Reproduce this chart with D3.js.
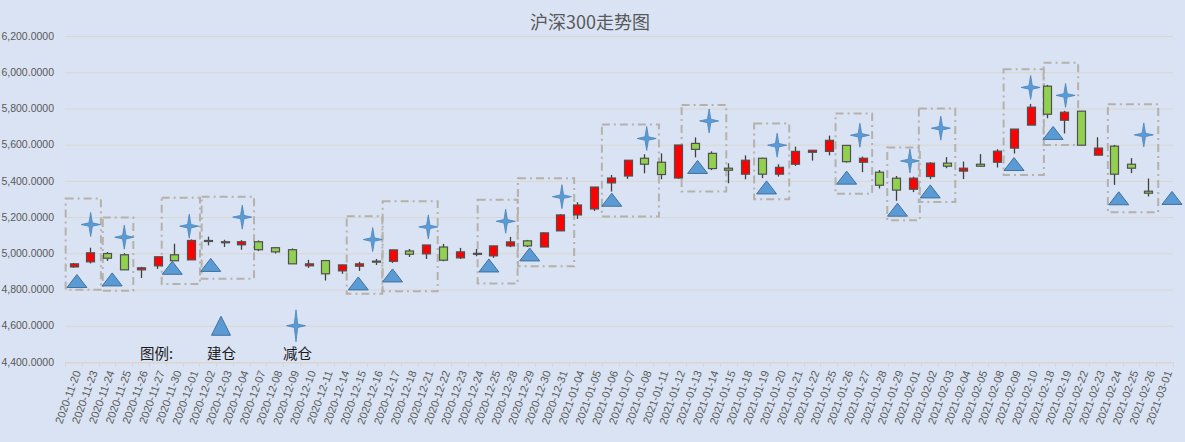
<!DOCTYPE html>
<html>
<head>
<meta charset="utf-8">
<script src="https://cdn.jsdelivr.net/npm/d3@7"></script>
<style>
  body { margin: 0; background: #dae3f3; }
  svg { display: block; }
</style>
</head>
<body>
<div class="chart"></div>
<script>

var dates = ["2020-11-20","2020-11-23","2020-11-24","2020-11-25","2020-11-26","2020-11-27","2020-11-30",
  "2020-12-01","2020-12-02","2020-12-03","2020-12-04","2020-12-07","2020-12-08","2020-12-09","2020-12-10",
  "2020-12-11","2020-12-14","2020-12-15","2020-12-16","2020-12-17","2020-12-18","2020-12-21","2020-12-22",
  "2020-12-23","2020-12-24","2020-12-25","2020-12-28","2020-12-29","2020-12-30","2020-12-31",
  "2021-01-04","2021-01-05","2021-01-06","2021-01-07","2021-01-08","2021-01-11","2021-01-12","2021-01-13",
  "2021-01-14","2021-01-15","2021-01-18","2021-01-19","2021-01-20","2021-01-21","2021-01-22","2021-01-25",
  "2021-01-26","2021-01-27","2021-01-28","2021-01-29","2021-02-01","2021-02-02","2021-02-03","2021-02-04",
  "2021-02-05","2021-02-08","2021-02-09","2021-02-10","2021-02-18","2021-02-19","2021-02-22","2021-02-23",
  "2021-02-24","2021-02-25","2021-02-26","2021-03-01"];

var open  = [4925,4953,4999,4992,4909,4931,4992,4964,5071,5064,5047,5064,5031,5020,4931,4960,4903,4929,4955,4956,
  5013,4997,5035,4975,5000,4986,5041,5069,5035,5124,5212,5245,5389,5427,5525,5503,5416,5607,5552,5470,
  5437,5525,5437,5492,5558,5563,5596,5503,5448,5415,5354,5424,5498,5454,5492,5503,5581,5708,5923,5735,
  5785,5542,5592,5492,5343,null];
var high  = [4947,5031,5007,5001,4925,4981,5053,5077,5092,5075,5073,5071,5033,5027,4964,4962,4938,4953,4969,5019,
  5024,5046,5052,5030,5024,5041,5091,5074,5115,5216,5282,5366,5433,5514,5547,5552,5598,5640,5563,5497,
  5541,5528,5492,5589,5571,5650,5598,5534,5460,5427,5423,5503,5531,5507,5548,5575,5686,5825,5930,5787,
  5785,5641,5599,5526,5413,null];
var low   = [4920,4944,4958,4909,4864,4914,4959,4964,5044,5035,5020,5012,4999,4942,4920,4850,4887,4903,4936,4947,
  4980,4969,4956,4969,4984,4975,5034,5035,5035,5124,5190,5234,5341,5411,5442,5409,5411,5530,5459,5387,
  5409,5415,5424,5483,5512,5541,5501,5448,5358,5290,5338,5410,5470,5410,5478,5474,5551,5708,5746,5662,
  5597,5542,5378,5443,5314,null];
var close = [4942,5003,4973,4909,4920,4981,4959,5071,5070,5062,5064,5020,5008,4942,4942,4887,4936,4942,4957,5019,
  4995,5046,4962,5008,4998,5041,5063,5041,5113,5212,5267,5366,5416,5514,5492,5435,5598,5574,5468,5459,
  5514,5437,5475,5563,5569,5624,5506,5525,5376,5349,5415,5498,5481,5470,5481,5564,5686,5807,5768,5779,
  5597,5581,5437,5470,5332,null];

// 建仓 / 减仓 marks, x given in date-index units
var buyAt   = [0.21,2.31,5.89,8.18,16.97,19.01,24.75,27.18,32.07,37.18,41.29,46.06,49.09,51.04,56.03,58.36,62.27,65.44];
var buyVal  = [4847,4856,4920,4936,4834,4878,4933,4994,5296,5477,5364,5418,5241,5342,5493,5665,5304,5306];
var sellAt  = [1.03,3.03,6.90,10.06,17.83,21.14,25.75,29.10,34.15,37.87,41.92,46.85,49.83,51.67,57.02,59.10,63.76];
var sellVal = [5159,5089,5150,5200,5076,5146,5177,5313,5634,5731,5597,5652,5510,5691,5916,5872,5654];

// dashed boxes round each trade
var boxFrom = [-0.46,1.75,5.26,7.64,16.28,18.42,24.08,26.48,31.48,36.23,40.55,45.40,48.48,50.36,55.41,57.79,61.62];
var boxTo   = [1.64,3.57,7.54,10.76,18.40,21.70,26.46,29.83,34.88,38.89,42.64,47.58,50.42,52.53,57.81,59.85,64.62];
var boxLow  = [4799,4794,4831,4860,4777,4790,4833,4928,5203,5342,5298,5329,5183,5283,5432,5598,5227];
var boxHigh = [5303,5198,5307,5313,5205,5288,5296,5415,5711,5819,5717,5772,5584,5800,6016,6052,5823];

var yTicks = [4400,4600,4800,5000,5200,5400,5600,5800,6000,6200];

var width = 1185,
    height = 442;

var svg = d3.select(".chart").append("svg")
    .attr("width", width)
    .attr("height", height);

var x = d3.scaleBand()
    .domain(dates)
    .range([65, 1173])
    .padding(0);

var y = d3.scaleLinear()
    .domain([4400, 6200])
    .range([362, 36]);

// fractional index -> pixel
var xi = d3.scaleLinear()
    .domain([-0.5, dates.length - 0.5])
    .range(x.range());

var candles = dates.map(function(d, i) {
  return { date: d, o: open[i], h: high[i], l: low[i], c: close[i] };
}).filter(function(d) { return d.o != null; });

// grid
svg.append("g")
  .selectAll("line")
  .data(yTicks)
  .enter().append("line")
    .attr("x1", 65)
    .attr("x2", 1173)
    .attr("y1", function(d) { return y(d) + 0.5; })
    .attr("y2", function(d) { return y(d) + 0.5; })
    .style("stroke", "#d9d6d0")
    .style("stroke-width", 1);

// y labels
svg.append("g")
  .selectAll("text")
  .data(yTicks)
  .enter().append("text")
    .attr("x", 54)
    .attr("y", function(d) { return y(d); })
    .attr("dy", ".35em")
    .attr("text-anchor", "end")
    .style("font-family", "Liberation Sans, Arial, sans-serif")
    .style("font-size", "10.5px")
    .style("fill", "#595959")
    .text(d3.format(",.4f"));

// x axis
var xAxis = svg.append("g")
    .attr("transform", "translate(0," + (y(4400) + 0.5) + ")")
    .call(d3.axisBottom(x).tickSize(0).tickFormat(""));
xAxis.select(".domain").style("stroke", "#d9d6d0");

svg.append("g")
  .selectAll("line")
  .data(d3.range(dates.length + 1))
  .enter().append("line")
    .attr("x1", function(i) { return Math.round(x.range()[0] + i * x.step()) + 0.5; })
    .attr("x2", function(i) { return Math.round(x.range()[0] + i * x.step()) + 0.5; })
    .attr("y1", y(4400))
    .attr("y2", y(4400) + 5)
    .style("stroke", "#d9d6d0");

svg.append("g")
  .selectAll("text")
  .data(dates)
  .enter().append("text")
    .attr("transform", function(d) {
      return "translate(" + (x(d) + x.bandwidth() / 2 + 4) + "," + (y(4400) + 9) + ") rotate(-70)";
    })
    .attr("text-anchor", "end")
    .attr("dy", ".35em")
    .style("font-family", "Liberation Sans, Arial, sans-serif")
    .style("font-size", "11px")
    .style("fill", "#595959")
    .text(function(d) { return d; });

// title
svg.append("text")
    .attr("x", 590)
    .attr("y", 29)
    .attr("text-anchor", "middle")
    .style("font-family", "Noto Sans CJK SC, sans-serif")
    .style("font-size", "18px")
    .style("fill", "#595959")
    .text("沪深300走势图");

// boxes
svg.append("g")
  .selectAll("rect")
  .data(boxFrom)
  .enter().append("rect")
    .attr("x", function(d) { return xi(d); })
    .attr("y", function(d, i) { return y(boxHigh[i]); })
    .attr("width", function(d, i) { return xi(boxTo[i]) - xi(d); })
    .attr("height", function(d, i) { return y(boxLow[i]) - y(boxHigh[i]); })
    .style("fill", "none")
    .style("stroke", "#b5b1ab")
    .style("stroke-width", 2)
    .style("stroke-dasharray", "8,4,2,4");

// candles
var bw = x.bandwidth() * 0.45;

var c = svg.append("g")
  .selectAll("g")
  .data(candles)
  .enter().append("g");

c.append("line")
    .attr("x1", function(d) { return Math.round(x(d.date) + x.bandwidth() / 2) + 0.5; })
    .attr("x2", function(d) { return Math.round(x(d.date) + x.bandwidth() / 2) + 0.5; })
    .attr("y1", function(d) { return y(d.h); })
    .attr("y2", function(d) { return y(d.l); })
    .style("stroke", "#404040")
    .style("stroke-width", 1.3);

c.append("rect")
    .attr("x", function(d) { return Math.round(x(d.date) + x.bandwidth() / 2 - bw / 2) + 0.5; })
    .attr("y", function(d) { return y(Math.max(d.o, d.c)); })
    .attr("width", Math.round(bw))
    .attr("height", function(d) { return Math.max(1, Math.abs(y(d.o) - y(d.c))); })
    .style("fill", function(d) { return d.c >= d.o ? "#ff0000" : "#92d050"; })
    .style("stroke", "#505050")
    .style("stroke-width", 1.2);

function tri(w, h) {
  return "M0," + (-h / 2) + "L" + (w / 2) + "," + (h / 2) + "L" + (-w / 2) + "," + (h / 2) + "Z";
}

function star(w, h) {
  var k = Math.min(w, h) * 0.09;
  return "M0," + (-h / 2) + "L" + k + "," + (-k) + "L" + (w / 2) + ",0L" + k + "," + k +
         "L0," + (h / 2) + "L" + (-k) + "," + k + "L" + (-w / 2) + ",0L" + (-k) + "," + (-k) + "Z";
}

// 建仓
svg.append("g")
  .selectAll("path")
  .data(buyAt)
  .enter().append("path")
    .attr("transform", function(d, i) { return "translate(" + xi(d) + "," + y(buyVal[i]) + ")"; })
    .attr("d", tri(20, 13))
    .style("fill", "#5b9bd5")
    .style("stroke", "#41719c")
    .style("stroke-width", 1);

// 减仓
svg.append("g")
  .selectAll("path")
  .data(sellAt)
  .enter().append("path")
    .attr("transform", function(d, i) { return "translate(" + xi(d) + "," + y(sellVal[i]) + ")"; })
    .attr("d", star(19, 24))
    .style("fill", "#5b9bd5")
    .style("stroke", "#4a84ba")
    .style("stroke-width", 0.8);

// legend
var legend = svg.append("g");

legend.append("path")
    .attr("transform", "translate(221," + y(4600) + ")")
    .attr("d", tri(19, 19))
    .style("fill", "#5b9bd5")
    .style("stroke", "#41719c");

legend.append("path")
    .attr("transform", "translate(296," + y(4600) + ")")
    .attr("d", star(19, 32))
    .style("fill", "#5b9bd5")
    .style("stroke", "#4a84ba")
    .style("stroke-width", 0.8);

legend.selectAll("text")
  .data([["图例:", 140], ["建仓", 207], ["减仓", 283]])
  .enter().append("text")
    .attr("x", function(d) { return d[1]; })
    .attr("y", 359)
    .style("font-family", "Noto Sans CJK SC, sans-serif")
    .style("font-size", "14.5px")
    .style("fill", "#1a1a1a")
    .text(function(d) { return d[0]; });

</script>
</body>
</html>
